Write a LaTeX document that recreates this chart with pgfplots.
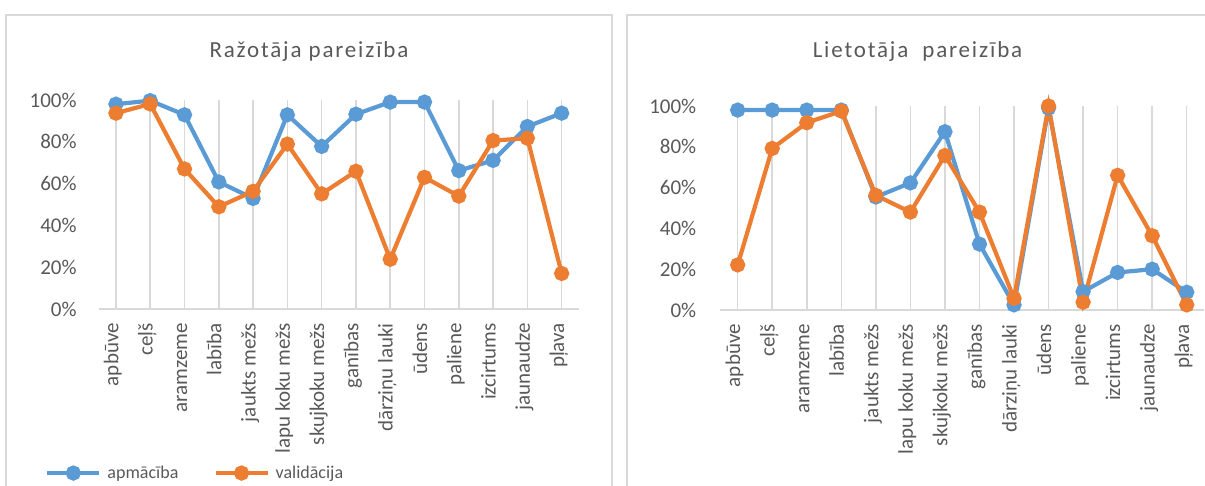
\documentclass[border=0pt]{standalone}
\usepackage{fontspec}
\setmainfont{Carlito}
\usepackage{pgfplots}
\usepackage{pgfplotstable}
\pgfplotsset{compat=1.18}
\definecolor{cblue}{HTML}{5B9BD5}
\definecolor{corange}{HTML}{ED7D31}
\definecolor{cgrid}{HTML}{D9D9D9}
\definecolor{ctext}{HTML}{595959}

\pgfplotstableread{
x a v
0 98.0 93.7
1 99.7 98.1
2 92.9 67.0
3 60.8 48.9
4 52.9 56.3
5 92.9 78.9
6 77.8 55.1
7 93.2 65.9
8 99.0 23.8
9 99.0 63.0
10 66.2 54.0
11 71.1 80.6
12 87.3 81.7
13 93.7 17.0
}\leftdata

\pgfplotstableread{
x a v
0 98.0 22.1
1 98.0 79.2
2 98.0 91.8
3 98.0 97.5
4 55.4 56.2
5 62.3 48.0
6 87.4 75.7
7 32.3 48.0
8 2.5 5.7
9 99.0 100.0
10 9.0 3.8
11 18.4 66.0
12 20.0 36.4
13 8.7 2.5
}\rightdata

\pgfplotsset{
  excel/.style={
    scale only axis,
    xmin=-0.5, xmax=13.5, ymin=0, ymax=100,
    clip=false,
    axis x line=bottom, axis y line=left,
    x axis line style={-, draw=cgrid, line width=1.5pt},
    y axis line style={draw=none},
    major tick length=0pt,
    tick style={draw=none},
    xmajorgrids, ymajorgrids=false,
    major grid style={draw=cgrid, line width=1.5pt},
    xtick={0,...,13},
    xticklabels={apbūve,ceļš,aramzeme,labība,jaukts mežs,lapu koku mežs,skujkoku mežs,ganības,dārziņu lauki,ūdens,paliene,izcirtums,jaunaudze,pļava},
    ytick={0,20,...,100},
    yticklabels={0\%,20\%,40\%,60\%,80\%,100\%},
    ticklabel style={font=\fontsize{21}{24}\selectfont, text=ctext, inner sep=0pt},
    xticklabel style={rotate=90, anchor=east, text height=0.7em, text depth=0.2em},
    yticklabel style={anchor=east},
    xticklabel shift=14pt,
    every axis plot/.append style={line width=4.2pt, mark=*, mark size=5.5pt, mark options={solid}},
    legend image code/.code={\draw[mark repeat=2,mark phase=2,#1] plot coordinates {(0pt,0pt)(26pt,0pt)(52pt,0pt)};},
  }
}

\begin{document}
\begin{tikzpicture}
\useasboundingbox (0,0) rectangle (1205pt,486pt);
\draw[cgrid, line width=1.5pt] (6pt,-2pt) -- (6pt,471pt) -- (612pt,471pt) -- (612pt,-2pt);
\draw[cgrid, line width=1.5pt] (627pt,-2pt) -- (627pt,471pt) -- (1210pt,471pt);

\begin{axis}[excel,
  at={(98.8pt,177pt)}, anchor=south west,
  width=480pt, height=209pt,
  yticklabel shift=22pt,
  legend columns=2,
  legend style={draw=none, fill=none, inner sep=0pt,
    at={(axis description cs:-0.112,-0.785)}, anchor=west,
    font=\fontsize{18}{21}\selectfont, text=ctext,
    nodes={inner sep=0pt},
    /tikz/every odd column/.append style={column sep=6pt},
    /tikz/every even column/.append style={column sep=35pt}},
]
\addplot[color=cblue] table[x=x,y=a] {\leftdata};
\addlegendentry{apmācība}
\addplot[color=corange] table[x=x,y=v] {\leftdata};
\addlegendentry{validācija}
\end{axis}

\begin{axis}[excel,
  at={(720.4pt,176pt)}, anchor=south west,
  width=483.6pt, height=204pt,
  yticklabel shift=24pt,
]
\addplot[color=cblue] table[x=x,y=a] {\rightdata};
\addplot[color=corange] table[x=x,y=v] {\rightdata};
\end{axis}

\node[anchor=base, text=ctext, font=\fontsize{23}{27}\selectfont\addfontfeature{LetterSpace=8}] at (309pt,428.7pt) {Ražotāja pareizība};
\node[anchor=base, text=ctext, font=\fontsize{23}{27}\selectfont\addfontfeature{LetterSpace=8}] at (917.5pt,428.7pt) {Lietotāja~~pareizība};
\end{tikzpicture}
\end{document}
